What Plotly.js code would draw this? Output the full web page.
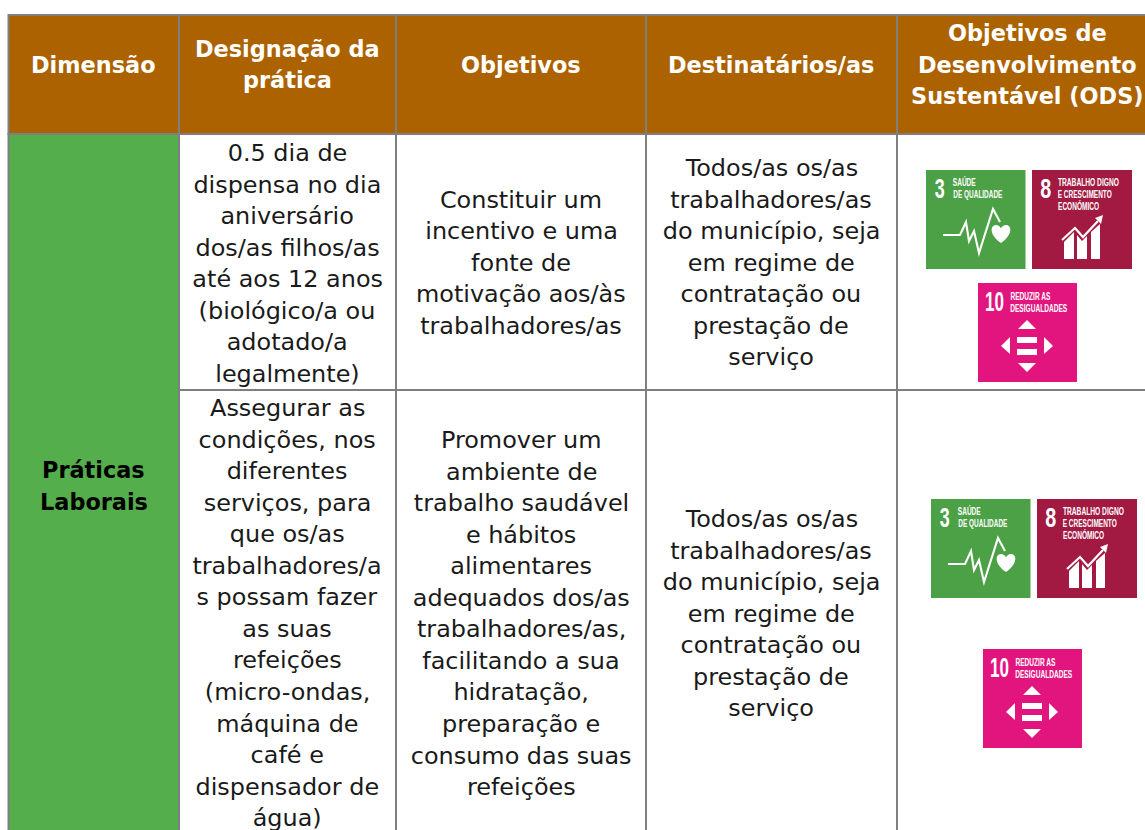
<!DOCTYPE html>
<html><head><meta charset="utf-8">
<script src="https://cdn.plot.ly/plotly-3.0.1.min.js"></script>
<style>html,body{margin:0;padding:0;background:#fff;overflow:hidden}#c{width:1145px;height:830px}</style>
</head><body><div id="c"></div>
<script>
// ---- table content ----
const headers = [
  ["Dimensão"],
  ["Designação da", "prática"],
  ["Objetivos"],
  ["Destinatários/as"],
  ["Objetivos de", "Desenvolvimento", "Sustentável (ODS)"]
];
const dimension = ["Práticas", "Laborais"];
const practice1 = ["0.5 dia de","dispensa no dia","aniversário","dos/as filhos/as","até aos 12 anos","(biológico/a ou","adotado/a","legalmente)"];
const practice2 = ["Assegurar as","condições, nos","diferentes","serviços, para","que os/as","trabalhadores/a","s possam fazer","as suas","refeições","(micro-ondas,","máquina de","café e","dispensador de","água)"];
const objective1 = ["Constituir um","incentivo e uma","fonte de","motivação aos/às","trabalhadores/as"];
const objective2 = ["Promover um","ambiente de","trabalho saudável","e hábitos","alimentares","adequados dos/as","trabalhadores/as,","facilitando a sua","hidratação,","preparação e","consumo das suas","refeições"];
const audience = ["Todos/as os/as","trabalhadores/as","do município, seja","em regime de","contratação ou","prestação de","serviço"];
const sdg3 = {num:"3", label:["SAÚDE","DE QUALIDADE"]};
const sdg8 = {num:"8", label:["TRABALHO DIGNO","E CRESCIMENTO","ECONÓMICO"]};
const sdg10 = {num:"10", label:["REDUZIR AS","DESIGUALDADES"]};

// ---- layout and style ----
const W=1145,H=830;
const FONT="'DejaVu Sans', sans-serif", NARROW="'Liberation Sans',sans-serif";
const BODY=23, HEAD=22.4, LH=31.55, BODY_STRETCH=1.04;
const colX=[8.5,179,396,646,897,1150], rowY=[15,134,390,835];
const centers=[93.5,287,521,771,1027.5];
const GRID="#7f7f7f", BROWN="#ad6200", GREEN="#53ae4b";
const shapes=[], annotations=[], squeeze={}, stretch={};
function rect(x0,y0,x1,y1,fill,line){shapes.push({type:"rect",xref:"x",yref:"y",x0,y0,x1,y1,fillcolor:fill,line:line?{color:line,width:2}:{width:0},layer:"above"});}
function lines(arr,cx,first,opt){opt=opt||{};arr.forEach((t,i)=>{
  if(opt.stretch) stretch[annotations.length]=opt.stretch;
  annotations.push({xref:"x",yref:"y",x:cx,y:first+i*LH,text:t,showarrow:false,xanchor:"center",yanchor:"middle",align:"center",borderpad:0,
    font:{family:FONT,size:opt.size||BODY,color:opt.color||"#1a1a1a",weight:opt.weight||400}});
});}
for(let c=0;c<5;c++) rect(colX[c],rowY[0],colX[c+1],rowY[1],BROWN,GRID);
rect(colX[0],rowY[1],colX[1],rowY[3],GREEN,GRID);
for(let r=1;r<3;r++)for(let c=1;c<5;c++) rect(colX[c],rowY[r],colX[c+1],rowY[r+1],"#ffffff",GRID);
const headFirst=[65,48.5,65,65,33];
headers.forEach((h,i)=>lines(h,centers[i],headFirst[i],{size:HEAD,weight:700,color:"#ffffff"}));
lines(dimension,centers[0],470,{size:HEAD,weight:700,color:"#000000"});
const plain={stretch:BODY_STRETCH};
lines(practice1,centers[1],153,plain);
lines(practice2,centers[1],408,plain);
lines(objective1,centers[2],199.5,plain);
lines(objective2,centers[2],440,plain);
lines(audience,centers[3],168,plain);
lines(audience,centers[3],519,plain);
// SDG icons
function path(ox,oy,s,pts,close){return pts.map((p,i)=>(i?"L":"M")+(ox+p[0]*s)+","+(oy+p[1]*s)).join(" ")+(close?" Z":"");}
function addPath(d,fill,stroke,w){shapes.push({type:"path",xref:"x",yref:"y",path:d,layer:"above",fillcolor:fill||"rgba(0,0,0,0)",line:stroke?{color:stroke,width:w}:{width:0}});}
function tight(x,y,w,t,size){ // condensed white text: squeezed to width w after drawing
  squeeze[annotations.length]=w;
  annotations.push({xref:"x",yref:"y",x:x+w/2,y,text:t,showarrow:false,xanchor:"center",yanchor:"middle",borderpad:0,font:{family:NARROW,size,weight:700,color:"#fff"}});
}
function iconText(o,x,y,numX,numW,textX,rows,widths){
  tight(x+numX,y+18.5,numW,o.num,28);
  o.label.forEach((t,i)=>tight(x+textX,y+rows[i],widths[i],t,11));
}
function icon3(x,y){
  rect(x,y,x+99.5,y+99,"#4ca146");
  iconText(sdg3,x,y,9,10,27,[12,24],[23,49]);
  addPath(path(x,y,1,[[17,65],[34,65],[40,52],[43,71],[48,61],[53,83],[67,39],[74,52]]),null,"#fff",2.1);
  const a=x+75,b=y+58;
  addPath(`M${a},${b+15} C${a-12},${b+7} ${a-11},${b-3} ${a-5},${b-3} C${a-3},${b-3} ${a},${b-1} ${a},${b+1} C${a},${b-1} ${a+3},${b-3} ${a+5},${b-3} C${a+11},${b-3} ${a+12},${b+7} ${a},${b+15} Z`,"#fff");
}
function icon8(x,y){
  rect(x,y,x+100,y+99,"#a21942");
  iconText(sdg8,x,y,8.5,11,26,[12,24,36],[61,54,41]);
  [[[32,89],[32,72],[42,62],[42,89]],[[45,89],[45,65],[50,71],[55,66],[55,89]],[[59,89],[59,62],[68,54],[68,89]]].forEach(p=>addPath(path(x,y,1,p,true),"#fff"));
  addPath(path(x,y,1,[[30,70],[43,58],[51,67],[66,51]]),null,"#fff",2.2);
  addPath(path(x,y,1,[[63,48],[71,45],[69,54]],true),"#fff");
}
function icon10(x,y){
  rect(x,y,x+99,y+99,"#e2157f");
  iconText(sdg10,x,y,7,19,32,[13,24.5],[40,57]);
  [[[49,37],[40,46],[58,46]],[[40,80],[58,80],[49,89]],[[32,54],[32,71],[23,63]],[[66,54],[66,71],[75,63]],
   [[39,54],[59,54],[59,60],[39,60]],[[39,66],[59,66],[59,72],[39,72]]].forEach(p=>addPath(path(x,y,1,p,true),"#fff"));
}
icon3(926,170);icon8(1032,170);icon10(978,283);
icon3(931,499);icon8(1037,499);icon10(983,649);

const trace={type:"scatter",x:[0,W],y:[0,H],mode:"markers",marker:{opacity:0,size:1},hoverinfo:"skip",showlegend:false};
Plotly.newPlot("c",[trace],{width:W,height:H,margin:{l:0,r:0,t:0,b:0},paper_bgcolor:"#fff",plot_bgcolor:"#fff",showlegend:false,
  xaxis:{range:[0,W],visible:false,fixedrange:true},yaxis:{range:[H,0],visible:false,fixedrange:true},shapes,annotations},{displayModeBar:false,staticPlot:true}).then(gd=>{
  gd.querySelectorAll(".annotation").forEach(g=>{
    const i=+g.getAttribute("data-index"), t=g.querySelector("text");
    const w=squeeze[i]||(stretch[i]?t.getComputedTextLength()*stretch[i]:0);
    if(w){t.setAttribute("textLength",w);t.setAttribute("lengthAdjust","spacingAndGlyphs");}
  });
});
</script></body></html>
